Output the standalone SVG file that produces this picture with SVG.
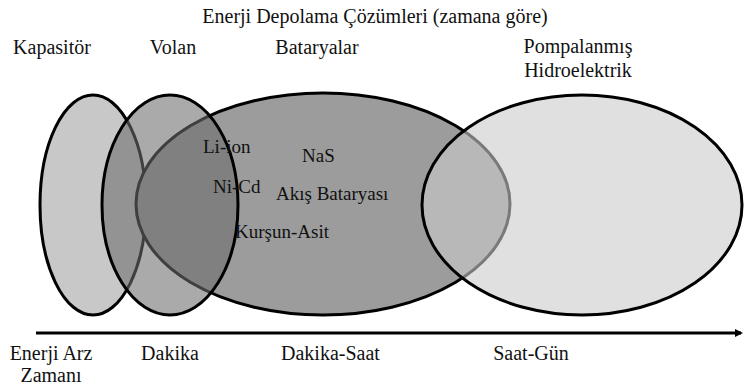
<svg xmlns="http://www.w3.org/2000/svg" width="744" height="389" viewBox="0 0 744 389" font-family="'Liberation Serif', 'DejaVu Serif', serif">
<style>
text{font-family:'Liberation Serif','Times New Roman',serif;font-size:20px;fill:#111}
.in{font-size:19px}
.e{stroke:#000;stroke-width:3}
</style>
<defs>
<marker id="ah" markerWidth="8" markerHeight="8" refX="6" refY="4" orient="auto" markerUnits="userSpaceOnUse"><path d="M0,0 L8,4 L0,8 Z" fill="#000"/></marker>
</defs>
<rect width="744" height="389" fill="#fff"/>
<text x="375" y="23" text-anchor="middle">Enerji Depolama Çözümleri (zamana göre)</text>
<g id="kapasitor">
<ellipse class="e" cx="93" cy="205" rx="53" ry="110" fill="#c8c8c8"/>
<text x="52" y="54" text-anchor="middle">Kapasitör</text>
</g>
<g id="bataryalar">
<ellipse class="e" cx="323" cy="204" rx="187" ry="111" fill="#9c9c9c"/>
<text x="317" y="54" text-anchor="middle">Bataryalar</text>
</g>
<g id="volan">
<ellipse class="e" cx="170" cy="205" rx="68" ry="110" fill="#6c6c6c" fill-opacity="0.58"/>
<text x="173" y="54" text-anchor="middle">Volan</text>
</g>
<g id="batarya-turleri">
<text class="in" x="203" y="153">Li-ion</text>
<text class="in" x="302" y="162">NaS</text>
<text class="in" x="213" y="193">Ni-Cd</text>
<text class="in" x="276" y="200">Akış Bataryası</text>
<text class="in" x="235" y="238">Kurşun-Asit</text>
</g>
<g id="pompalanmis">
<ellipse class="e" cx="582" cy="205" rx="160" ry="110" fill="#cbcbcb" fill-opacity="0.6"/>
<text x="578" y="53" text-anchor="middle">Pompalanmış</text>
<text x="578" y="77" text-anchor="middle">Hidroelektrik</text>
</g>
<g id="connectors">
<line x1="36" y1="333" x2="741" y2="333" stroke="#000" stroke-width="3" marker-end="url(#ah)"/>
</g>
<g id="eksen">
<text x="51" y="360" text-anchor="middle">Enerji Arz</text>
<text x="51" y="382" text-anchor="middle">Zamanı</text>
<text x="170" y="360" text-anchor="middle">Dakika</text>
<text x="281" y="360">Dakika-Saat</text>
<text x="531" y="360" text-anchor="middle">Saat-Gün</text>
</g>
</svg>
